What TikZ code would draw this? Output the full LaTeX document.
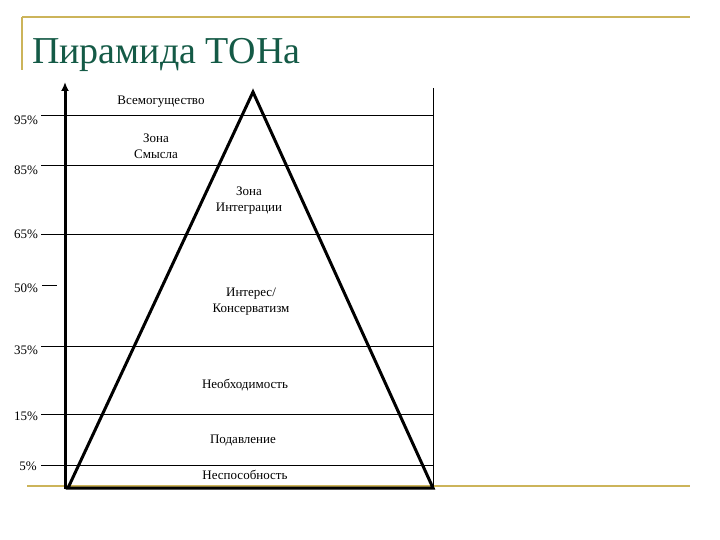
\documentclass[tikz,border=0pt]{standalone}
\usetikzlibrary{arrows.meta}
\usepackage{fontspec}
\setmainfont{Liberation Serif}
\definecolor{gold}{RGB}{204,180,90}
\definecolor{ttl}{RGB}{20,90,70}
\begin{document}
\begin{tikzpicture}[x=1pt,y=-1pt,
  lbl/.style={font=\fontsize{13}{16}\selectfont,align=center,inner sep=0pt},
  pct/.style={font=\fontsize{13}{15}\selectfont,inner sep=0pt}]
\useasboundingbox (0,0) rectangle (720,540);
\draw[gold,line width=2pt] (22,17) -- (690,17);
\draw[gold,line width=2pt] (22,17) -- (22,70);
\draw[gold,line width=2.5pt] (27,486) -- (690,486);
\node[anchor=base west,text=ttl,font=\fontsize{38}{40}\selectfont,inner sep=0pt] (title) at (32,64) {Пирамида ТОНа};
\coordinate (a0) at (65,489);
\coordinate (a1) at (65,82);
\draw[line width=3pt,-{Latex[length=9pt,width=8pt]}] (a0) -- (a1);
\coordinate (r0) at (433,88);
\coordinate (r1) at (433,488);
\draw[line width=1pt] (r0) -- (r1);
\foreach \y in {116,166,234,346,414,465}{
  \draw[line width=1pt] (41,\y) -- (433,\y);}
\draw[line width=1pt] (42,285) -- (57,285);
\coordinate (apex) at (253,92);
\coordinate (bl) at (68,488);
\coordinate (br) at (433,488);
\draw[line width=3pt,line join=miter] (bl) -- (apex) -- (br) -- cycle;
\node[pct] (p95) at (26,120) {95\%};
\node[pct] (p85) at (26,170) {85\%};
\node[pct] (p65) at (26,234) {65\%};
\node[pct] (p50) at (26,288) {50\%};
\node[pct] (p35) at (26,350) {35\%};
\node[pct] (p15) at (26,416) {15\%};
\node[pct] (p5) at (28,466) {5\%};
\node[lbl] (z1) at (161,102) {Всемогущество};
\node[lbl] (z2) at (156,146) {Зона\\Смысла};
\node[lbl] (z3) at (249,201) {Зона\\Интеграции};
\node[lbl] (z4) at (251,302) {Интерес/\\Консерватизм};
\node[lbl] (z5) at (245,385) {Необходимость};
\node[lbl] (z6) at (243,440) {Подавление};
\node[lbl] (z7) at (245,475) {Неспособность};
\end{tikzpicture}
\end{document}
